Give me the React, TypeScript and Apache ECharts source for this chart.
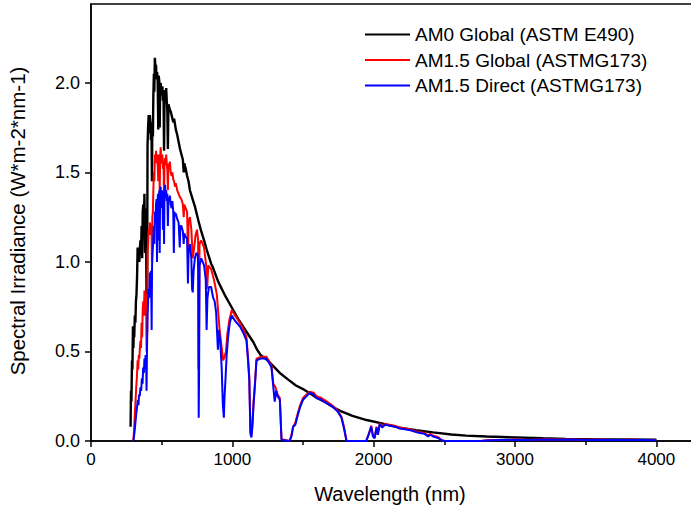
import React, { useEffect, useRef } from "react";
import * as echarts from "echarts";

const SERIES_NAMES = ["AM0 Global (ASTM E490)", "AM1.5 Global (ASTMG173)", "AM1.5 Direct (ASTMG173)"];
const SERIES_COLORS = ["#000000", "#ff0000", "#0000ff"];
const SERIES_WIDTHS = [2.4, 2, 2];

const X_TICKS = [0, 1000, 2000, 3000, 4000];
const Y_TICKS = [0, 0.5, 1.0, 1.5, 2.0];

// AM0 (ASTM E490)
const AM0_WL = [280,283,286,290,293,297,300,303,306,310,314,318,322,326,330,334,338,342,346,350,354,358,362,366,370,374,378,382,386,390,393,395,397,400,404,408,412,416,420,424,428,431,434,438,441,445,448,452,456,460,464,468,472,476,479,483,486,489,493,497,501,505,509,513,517,520,524,528,532,536,540,544,548,552,558,564,570,576,582,588,594,600,610,620,630,640,650,656,660,670,680,690,700,715,735,760,780,800,818,850,862,900,950,1000,1050,1100,1150,1175,1200,1250,1300,1336,1400,1450,1500,1550,1600,1650,1712,1772,1850,1950,2050,2183,2300,2420,2550,2654,2800,3000,3200,3360,3600,3800,4000];
const AM0_VAL = [0.08,0.28,0.22,0.45,0.40,0.64,0.52,0.62,0.58,0.70,0.66,0.78,0.82,0.92,1.08,1.00,1.05,1.00,1.08,1.12,1.05,1.20,1.02,1.28,1.32,1.18,1.38,1.05,1.30,1.20,0.72,1.25,0.80,1.65,1.75,1.82,1.72,1.82,1.78,1.68,1.74,1.45,1.78,1.70,1.92,2.05,1.95,2.14,2.08,2.10,2.02,2.06,2.00,1.74,2.04,2.01,1.75,1.95,2.00,1.93,1.96,1.98,1.90,1.94,1.62,1.90,1.96,1.92,1.97,1.90,1.85,1.63,1.88,1.88,1.85,1.84,1.82,1.80,1.78,1.80,1.77,1.74,1.71,1.67,1.63,1.60,1.57,1.50,1.55,1.52,1.48,1.45,1.40,1.36,1.31,1.23,1.17,1.12,1.07,0.99,0.97,0.89,0.81,0.74,0.67,0.61,0.55,0.51,0.48,0.45,0.41,0.38,0.34,0.31,0.29,0.265,0.24,0.22,0.19,0.165,0.14,0.117,0.10,0.075,0.06,0.048,0.036,0.03,0.025,0.02,0.015,0.012,0.009,0.008,0.007];

// AM1.5 Global (ASTM G173)
const G_WL = [295,300,305,310,315,320,325,330,334,338,342,346,350,354,358,362,366,370,374,378,382,386,390,393,396,398,400,404,408,412,416,420,424,428,431,434,438,441,445,448,452,456,460,464,468,472,476,480,484,486,489,493,497,501,505,509,513,517,520,524,528,532,536,540,544,548,552,558,564,570,576,582,588,594,600,610,620,630,640,650,656,660,670,680,687,690,700,710,720,730,740,750,758,761,764,768,780,800,815,822,830,850,870,890,900,910,925,935,945,955,965,980,996,1020,1053,1080,1100,1110,1120,1128,1135,1142,1150,1160,1171,1200,1241,1265,1277,1290,1305,1320,1336,1348,1406,1420,1430,1445,1465,1480,1500,1525,1548,1575,1595,1630,1670,1712,1745,1772,1790,1808,1947,1965,1983,1995,2007,2020,2030,2043,2060,2080,2100,2150,2183,2220,2260,2300,2325,2360,2385,2400,2420,2440,2460,2480,2500,2760,2800,2900,3000,3100,3200,3300,3400,3500,3600,3700,3800,3900,4000];
const G_VAL = [0.0,0.01,0.06,0.15,0.22,0.30,0.36,0.45,0.40,0.48,0.46,0.52,0.56,0.52,0.66,0.58,0.74,0.78,0.70,0.84,0.70,0.82,0.80,0.50,0.80,0.60,1.05,1.10,1.18,1.15,1.22,1.20,1.15,1.20,1.00,1.25,1.28,1.40,1.50,1.45,1.60,1.55,1.62,1.56,1.60,1.54,1.45,1.60,1.58,1.38,1.58,1.64,1.55,1.58,1.60,1.52,1.56,1.35,1.55,1.58,1.54,1.60,1.55,1.52,1.40,1.55,1.52,1.56,1.50,1.48,1.50,1.46,1.45,1.42,1.44,1.40,1.38,1.36,1.35,1.32,1.25,1.32,1.30,1.28,1.02,1.22,1.25,1.18,1.02,1.08,1.15,1.18,1.12,0.40,0.55,1.10,1.12,1.08,0.98,0.85,0.98,0.96,0.90,0.82,0.72,0.62,0.52,0.45,0.47,0.50,0.60,0.68,0.73,0.70,0.66,0.62,0.58,0.48,0.36,0.05,0.03,0.10,0.22,0.32,0.46,0.47,0.47,0.44,0.42,0.32,0.30,0.26,0.24,0.01,0.0,0.04,0.08,0.10,0.16,0.20,0.24,0.26,0.275,0.27,0.25,0.24,0.22,0.195,0.17,0.135,0.08,0.0,0.0,0.04,0.085,0.03,0.02,0.08,0.04,0.10,0.08,0.095,0.092,0.085,0.075,0.07,0.065,0.055,0.05,0.045,0.03,0.04,0.03,0.025,0.02,0.006,0.0,0.0,0.004,0.006,0.008,0.006,0.01,0.008,0.009,0.007,0.008,0.006,0.007,0.006,0.005];

// AM1.5 Direct (ASTM G173)
const D_WL = [297,302,308,314,320,326,332,336,340,345,350,355,360,365,369,374,378,382,386,390,393,396,400,404,408,412,417,421,425,429,432,436,440,444,448,452,456,460,464,467,470,474,477,480,484,486,489,493,497,501,505,509,513,517,520,524,528,532,536,540,544,548,552,558,564,570,576,582,586,590,594,600,610,620,628,632,640,650,656,660,670,680,686,690,700,710,715,720,726,735,745,755,759,762,765,768,780,800,812,818,824,835,850,864,875,885,898,905,915,925,933,940,945,952,960,970,982,996,1020,1053,1080,1100,1110,1120,1128,1135,1142,1150,1159,1171,1200,1241,1265,1277,1290,1300,1310,1320,1336,1348,1406,1420,1430,1445,1465,1480,1500,1525,1548,1575,1595,1630,1670,1712,1745,1772,1790,1808,1947,1965,1983,1995,2007,2020,2030,2043,2060,2080,2100,2150,2183,2220,2260,2300,2325,2360,2385,2400,2420,2440,2460,2480,2500,2760,2800,2900,3000,3100,3200,3300,3400,3500,3600,3700,3800,3900,4000];
const D_VAL = [0.0,0.01,0.05,0.10,0.15,0.19,0.23,0.20,0.26,0.25,0.30,0.28,0.35,0.32,0.41,0.38,0.46,0.40,0.48,0.45,0.28,0.50,0.70,0.78,0.85,0.80,0.94,0.92,0.95,0.62,0.98,1.05,1.12,1.20,1.10,1.28,1.22,1.32,1.35,1.00,1.32,1.38,1.12,1.36,1.40,1.05,1.38,1.42,1.30,1.38,1.40,1.18,1.36,1.10,1.38,1.43,1.36,1.40,1.34,1.38,1.20,1.36,1.34,1.37,1.32,1.30,1.34,1.28,1.05,1.28,1.26,1.27,1.24,1.22,1.08,1.20,1.20,1.17,1.10,1.16,1.14,1.13,0.88,1.05,1.10,1.02,0.85,0.83,0.95,1.02,1.05,1.04,0.95,0.13,0.40,0.98,1.02,0.98,0.90,0.62,0.80,0.86,0.86,0.80,0.78,0.72,0.51,0.62,0.55,0.40,0.20,0.13,0.25,0.35,0.48,0.58,0.66,0.70,0.67,0.64,0.60,0.56,0.46,0.34,0.04,0.02,0.08,0.20,0.30,0.45,0.46,0.46,0.43,0.41,0.30,0.22,0.28,0.25,0.23,0.005,0.0,0.03,0.08,0.09,0.15,0.19,0.23,0.25,0.27,0.26,0.24,0.23,0.21,0.19,0.165,0.13,0.07,0.0,0.0,0.035,0.08,0.025,0.015,0.075,0.035,0.095,0.075,0.09,0.088,0.08,0.07,0.065,0.06,0.05,0.045,0.04,0.025,0.035,0.025,0.02,0.015,0.004,0.0,0.0,0.003,0.005,0.007,0.005,0.009,0.007,0.008,0.006,0.007,0.005,0.006,0.005,0.004];

const zip = (xs: number[], ys: number[]) => xs.map((x, i) => [x, ys[i]]);

const FONT = "Liberation Sans, Arial, sans-serif";

export default function App() {
  const ref = useRef<HTMLDivElement>(null);
  useEffect(() => {
    if (!ref.current) return;
    const chart = echarts.init(ref.current, null, { renderer: "svg" });
    const datasets = [zip(AM0_WL, AM0_VAL), zip(G_WL, G_VAL), zip(D_WL, D_VAL)];
    chart.setOption({
      animation: false,
      backgroundColor: "#ffffff",
      grid: {
        left: 91,
        top: 4,
        right: 2.25,
        bottom: 70,
        show: true,
        borderColor: "#000",
        borderWidth: 1.5,
      },
      legend: {
        orient: "vertical",
        left: 360,
        top: 20,
        icon: "rect",
        itemWidth: 45,
        itemHeight: 2,
        itemGap: 6.5,
        textStyle: { fontFamily: FONT, fontSize: 19, color: "#000" },
        data: SERIES_NAMES,
      },
      xAxis: {
        type: "value",
        min: 0,
        max: 4500,
        interval: 1000,
        axisLine: { show: true, lineStyle: { color: "#000", width: 1.5 } },
        axisTick: { show: true, length: 6, lineStyle: { color: "#000", width: 1.5 } },
        minorTick: { show: true, splitNumber: 2, length: 4, lineStyle: { color: "#000", width: 1.5 } },
        splitLine: { show: false },
        axisLabel: {
          margin: 10,
          fontFamily: FONT,
          fontSize: 17,
          color: "#000",
          formatter: (v: number) => (X_TICKS.includes(v) ? String(v) : ""),
        },
      },
      yAxis: {
        type: "value",
        min: 0,
        max: 2.44,
        axisLine: { show: true, lineStyle: { color: "#000", width: 1.5 } },
        axisTick: { show: true, length: 6, customValues: Y_TICKS, lineStyle: { color: "#000", width: 1.5 } },
        splitLine: { show: false },
        axisLabel: {
          margin: 11,
          fontFamily: FONT,
          fontSize: 18,
          color: "#000",
          customValues: Y_TICKS,
          formatter: (v: number) => v.toFixed(1),
        },
      },
      graphic: [
        {
          type: "text",
          x: 390,
          y: 494,
          style: {
            text: "Wavelength (nm)",
            fontFamily: FONT,
            fontSize: 20,
            fill: "#000",
            textAlign: "center",
            textVerticalAlign: "middle",
          },
        },
        {
          type: "text",
          x: 17,
          y: 221,
          rotation: Math.PI / 2,
          style: {
            text: "Spectral Irradiance (W*m-2*nm-1)",
            fontFamily: FONT,
            fontSize: 20.5,
            fill: "#000",
            textAlign: "center",
            textVerticalAlign: "middle",
          },
        },
      ],
      series: SERIES_NAMES.map((name, i) => ({
        name,
        type: "line",
        data: datasets[i],
        symbol: "none",
        lineStyle: { color: SERIES_COLORS[i], width: SERIES_WIDTHS[i] },
        itemStyle: { color: SERIES_COLORS[i] },
        z: 2 + i,
      })),
    });
    return () => chart.dispose();
  }, []);
  return (
    <div
      ref={ref}
      style={{ position: "fixed", left: 0, top: 0, width: 730, height: 511, background: "#fff" }}
    />
  );
}
